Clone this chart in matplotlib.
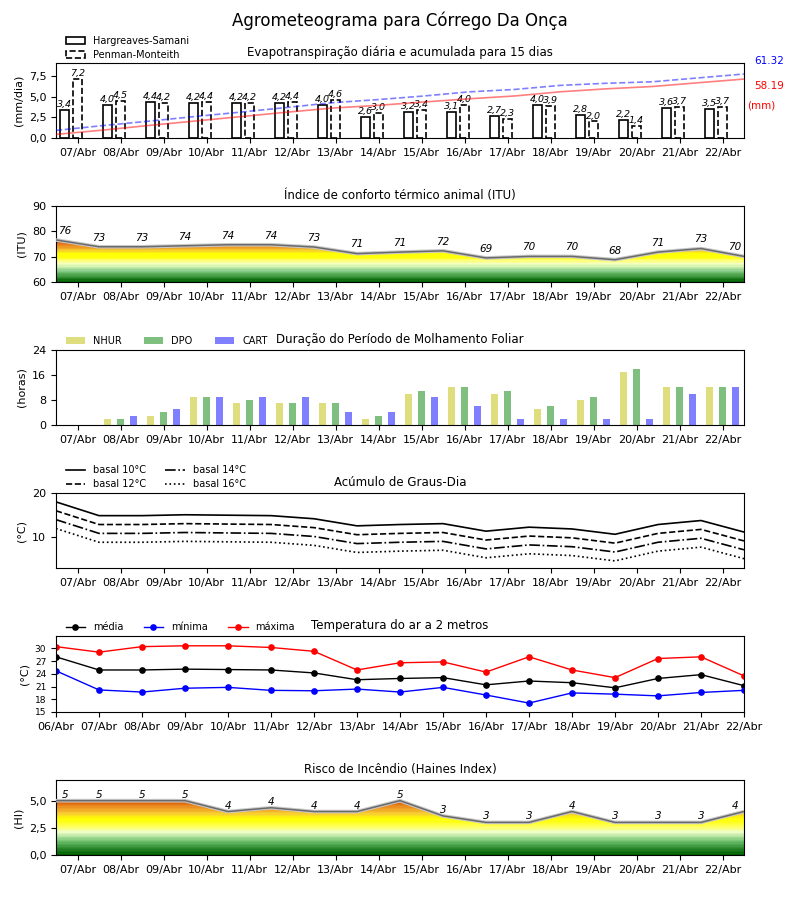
import numpy as np
import matplotlib
matplotlib.use('Agg')
import matplotlib.pyplot as plt
from matplotlib.colors import LinearSegmentedColormap, Normalize
from matplotlib.patches import Patch, Polygon
from matplotlib.ticker import FuncFormatter

# ---------------- data ----------------
days = ['07/Abr', '08/Abr', '09/Abr', '10/Abr', '11/Abr', '12/Abr', '13/Abr', '14/Abr',
        '15/Abr', '16/Abr', '17/Abr', '18/Abr', '19/Abr', '20/Abr', '21/Abr', '22/Abr']
temp_days = ['06/Abr'] + days

et_hs = [3.4, 4.0, 4.4, 4.2, 4.2, 4.2, 4.0, 2.6, 3.2, 3.1, 2.7, 4.0, 2.8, 2.2, 3.6, 3.5]
et_pm = [7.2, 4.5, 4.2, 4.4, 4.2, 4.4, 4.6, 3.0, 3.4, 4.0, 2.3, 3.9, 2.0, 1.4, 3.7, 3.7]
et_hs_total = '58.19'
et_pm_total = '61.32'

itu = [76.6, 73.9, 73.9, 74.3, 74.7, 74.7, 73.8, 71.2, 71.8, 72.3, 69.5, 70.1, 70.1,
       68.8, 71.8, 73.2, 70.1]

nhur = [0, 2, 3, 9, 7, 7, 7, 2, 10, 12, 10, 5, 8, 17, 12, 12]
dpo = [0, 2, 4, 9, 8, 7, 7, 3, 11, 12, 11, 6, 9, 18, 12, 12]
cart = [0, 3, 5, 9, 9, 9, 4, 4, 9, 6, 2, 2, 2, 2, 10, 12]

gd10 = [18.0, 14.9, 14.9, 15.1, 15.0, 14.9, 14.2, 12.6, 12.9, 13.1, 11.4, 12.3, 11.9, 10.7, 12.9, 13.8, 11.2]
gd12 = [16.0, 12.9, 12.9, 13.1, 13.0, 12.9, 12.2, 10.6, 10.9, 11.1, 9.4, 10.3, 9.9, 8.7, 10.9, 11.8, 9.2]
gd14 = [14.0, 10.9, 10.9, 11.1, 11.0, 10.9, 10.2, 8.6, 8.9, 9.1, 7.4, 8.3, 7.9, 6.7, 8.9, 9.8, 7.2]
gd16 = [12.0, 8.9, 8.9, 9.1, 9.0, 8.9, 8.2, 6.6, 6.9, 7.1, 5.4, 6.3, 5.9, 4.7, 6.9, 7.8, 5.2]

tmean = [28.0, 24.9, 24.9, 25.1, 25.0, 24.9, 24.2, 22.6, 22.9, 23.1, 21.4, 22.3, 21.9, 20.7, 22.9, 23.8, 21.2]
tmin = [24.7, 20.2, 19.7, 20.6, 20.8, 20.1, 20.0, 20.4, 19.7, 20.8, 19.0, 17.1, 19.5, 19.2, 18.8, 19.6, 20.1]
tmax = [30.4, 29.1, 30.4, 30.6, 30.6, 30.2, 29.3, 24.9, 26.6, 26.8, 24.4, 28.0, 24.9, 23.1, 27.6, 28.0, 23.5]

haines = [5, 5, 5, 5, 4, 4.35, 4, 4, 5, 3.6, 3, 3, 4, 3, 3, 3, 4]

# ---------------- helpers ----------------
comma = FuncFormatter(lambda v, p: ('%.1f' % v).replace('.', ','))

FS_TICK = 8
FS_TITLE = 8.5
LEG_X = 0.007


def setup_days(ax, labels):
    ax.set_xlim(-0.5, len(labels) - 0.5)
    ax.set_xticks(np.arange(len(labels)))
    ax.set_xticklabels(labels, fontsize=FS_TICK)
    ax.tick_params(axis='y', labelsize=FS_TICK)


def gradient_area(ax, x, y, ymin, ymax, stops, nb):
    v0, v1 = stops[0][0], stops[-1][0]
    cmap = LinearSegmentedColormap.from_list(
        'g', [((v - v0) / (v1 - v0), c) for v, c in stops], N=nb)
    grad = np.linspace(ymin, ymax, 400).reshape(-1, 1)
    im = ax.imshow(grad, extent=[x[0], x[-1], ymin, ymax], origin='lower',
                   aspect='auto', cmap=cmap, norm=Normalize(v0, v1), zorder=1,
                   interpolation='nearest')
    verts = [(x[0], ymin)] + list(zip(x, y)) + [(x[-1], ymin)]
    poly = Polygon(verts, closed=True, facecolor='none', edgecolor='none')
    ax.add_patch(poly)
    im.set_clip_path(poly)
    ax.plot(x, y, color='#c8c8c8', lw=2.6, zorder=3, solid_capstyle='butt')
    ax.plot(x, y, color='#6a6a6a', lw=1.1, zorder=4)


fig = plt.figure(figsize=(8, 9), dpi=100)
fig.suptitle('Agrometeograma para Córrego Da Onça', fontsize=12, y=0.987)

L, W = 0.07, 0.86
ndays = len(days)
xd = np.arange(ndays)
xe = np.linspace(-0.5, ndays - 0.5, ndays + 1)

# ---------------- panel 1: evapotranspiration ----------------
ax1 = fig.add_axes([L, 0.8467, W, 0.0833])
bw = 0.21
ax1.bar(xd - 0.31, et_hs, bw, facecolor='white', edgecolor='black', lw=1.2, zorder=2)
ax1.bar(xd, et_pm, bw, facecolor='white', edgecolor='black', lw=1.2, linestyle='--', zorder=2)
for xi, v in zip(xd - 0.31, et_hs):
    ax1.text(xi, v + 0.12, ('%.1f' % v).replace('.', ','), ha='center', va='bottom',
             fontsize=6.8, style='italic')
for xi, v in zip(xd, et_pm):
    ax1.text(xi, v + 0.12, ('%.1f' % v).replace('.', ','), ha='center', va='bottom',
             fontsize=6.8, style='italic')
setup_days(ax1, days)
ax1.set_ylim(0, 9.1)
ax1.set_yticks([0, 2.5, 5, 7.5])
ax1.yaxis.set_major_formatter(comma)
ax1.set_ylabel('(mm/dia)', fontsize=8)
ax1.set_title('Evapotranspiração diária e acumulada para 15 dias', fontsize=FS_TITLE, pad=5)
h1 = [Patch(facecolor='white', edgecolor='black', lw=1.2, label='Hargreaves-Samani'),
      Patch(facecolor='white', edgecolor='black', lw=1.2, linestyle='--', label='Penman-Monteith')]
ax1.legend(handles=h1, loc='lower left', bbox_to_anchor=(LEG_X, 0.98), frameon=False,
           fontsize=7, borderaxespad=0.1, labelspacing=0.4, handletextpad=0.8)

axc = fig.add_axes([L, 0.8467, W, 0.0833], frameon=False)
axc.plot(np.arange(ndays), np.cumsum(et_hs), color='red', alpha=0.5, lw=1.2)
axc.plot(np.arange(ndays), np.cumsum(et_pm), color='blue', alpha=0.5, lw=1.2, ls='--')
axc.set_xlim(0, ndays - 1)
axc.set_ylim(0, 71.4)
axc.set_xticks([])
axc.set_yticks([])
fig.text(769 / 800, 1 - 61 / 900, et_pm_total, color='blue', fontsize=7.5, ha='center', va='center')
fig.text(769 / 800, 1 - 86 / 900, et_hs_total, color='red', fontsize=7.5, ha='center', va='center')
fig.text(761 / 800, 1 - 105 / 900, '(mm)', color='red', fontsize=7.5, ha='center', va='center')

# ---------------- panel 2: ITU ----------------
ax2 = fig.add_axes([L, 0.6867, W, 0.0844])
itu_stops = [(60, '#006000'), (61.5, '#2e8b2e'), (63, '#5aaf5a'), (64.5, '#90d090'),
             (66, '#d4f4b0'), (67.2, '#f4ffc0'), (68.5, '#ffff70'), (69.5, '#ffff10'),
             (71.5, '#ffff00'), (72.5, '#f8d030'), (73.5, '#f0a828'), (74.8, '#e88020'),
             (77, '#d85000')]
gradient_area(ax2, xe, itu, 60, 90, itu_stops, 34)
for xi, v in zip(xe, itu):
    xt = min(max(xi, -0.29), ndays - 0.71)
    ax2.text(xt, v + 3.6, '%d' % int(v), ha='center', va='center', fontsize=7.5, style='italic')
setup_days(ax2, days)
ax2.set_ylim(60, 90)
ax2.set_yticks([60, 70, 80, 90])
ax2.set_ylabel('(ITU)', fontsize=8)
ax2.set_title('Índice de conforto térmico animal (ITU)', fontsize=FS_TITLE, pad=5)

# ---------------- panel 3: leaf wetness ----------------
ax3 = fig.add_axes([L, 0.5278, W, 0.0833])
wb = 0.155
ax3.bar(xd - 0.3, nhur, wb, color='y', alpha=0.5, label='NHUR')
ax3.bar(xd, dpo, wb, color='g', alpha=0.5, label='DPO')
ax3.bar(xd + 0.3, cart, wb, color='b', alpha=0.5, label='CART')
setup_days(ax3, days)
ax3.set_ylim(0, 24)
ax3.set_yticks([0, 8, 16, 24])
ax3.set_ylabel('(horas)', fontsize=8)
ax3.set_title('Duração do Período de Molhamento Foliar', fontsize=FS_TITLE, pad=5)
ax3.legend(loc='lower left', bbox_to_anchor=(LEG_X, 0.99), ncol=3, frameon=False,
           fontsize=7, borderaxespad=0.1, columnspacing=2.3, handletextpad=0.8)

# ---------------- panel 4: degree days ----------------
ax4 = fig.add_axes([L, 0.3689, W, 0.0833])
ax4.plot(xe, gd10, color='black', lw=1.2, ls='-', label='basal 10°C')
ax4.plot(xe, gd12, color='black', lw=1.2, ls='--', label='basal 12°C')
ax4.plot(xe, gd14, color='black', lw=1.2, ls='-.', label='basal 14°C')
ax4.plot(xe, gd16, color='black', lw=1.2, ls=':', label='basal 16°C')
setup_days(ax4, days)
ax4.set_ylim(3.1, 20)
ax4.set_yticks([10, 20])
ax4.set_ylabel('(°C)', fontsize=8)
ax4.set_title('Acúmulo de Graus-Dia', fontsize=FS_TITLE, pad=5)
ax4.legend(loc='lower left', bbox_to_anchor=(LEG_X, 0.99), ncol=2, frameon=False,
           fontsize=7, borderaxespad=0.1, columnspacing=2.0, handletextpad=0.8,
           labelspacing=0.4)

# ---------------- panel 5: air temperature ----------------
ax5 = fig.add_axes([L, 0.2089, W, 0.0844])
xt5 = np.arange(len(temp_days))
ax5.plot(xt5, tmean, color='black', marker='o', ms=3.8, lw=1, label='média')
ax5.plot(xt5, tmin, color='blue', marker='o', ms=3.8, lw=1, label='mínima')
ax5.plot(xt5, tmax, color='red', marker='o', ms=3.8, lw=1, label='máxima')
ax5.set_xlim(0, len(temp_days) - 1)
ax5.set_xticks(xt5)
ax5.set_xticklabels(temp_days, fontsize=FS_TICK)
ax5.set_ylim(15, 32.9)
ax5.set_yticks([15, 18, 21, 24, 27, 30])
ax5.tick_params(axis='y', labelsize=6.5)
ax5.set_ylabel('(°C)', fontsize=8)
ax5.set_title('Temperatura do ar a 2 metros', fontsize=FS_TITLE, pad=5)
ax5.legend(loc='lower left', bbox_to_anchor=(LEG_X, 0.99), ncol=3, frameon=False,
           fontsize=7, borderaxespad=0.1, columnspacing=2.1, handletextpad=0.8)

# ---------------- panel 6: Haines ----------------
ax6 = fig.add_axes([L, 0.05, W, 0.0833])
hi_stops = [(0, '#006000'), (0.6, '#2e8b2e'), (1.2, '#6cbf6c'), (1.7, '#b4e4a0'),
            (2.1, '#f0ffc8'), (2.6, '#ffff60'), (3.0, '#ffff20'), (3.4, '#ffff00'),
            (3.8, '#f8d030'), (4.3, '#f0a028'), (4.7, '#e47818'), (5.1, '#d85000')]
gradient_area(ax6, xe, haines, 0, 6.9, hi_stops, 40)
for xi, v in zip(xe, haines):
    xt = min(max(xi, -0.29), ndays - 0.71)
    ax6.text(xt, v + 0.55, '%d' % int(v), ha='center', va='center', fontsize=7.5, style='italic')
setup_days(ax6, days)
ax6.set_ylim(0, 6.9)
ax6.set_yticks([0, 2.5, 5])
ax6.yaxis.set_major_formatter(comma)
ax6.set_ylabel('(HI)', fontsize=8)
ax6.set_title('Risco de Incêndio (Haines Index)', fontsize=FS_TITLE, pad=5)

fig.savefig('out.png', dpi=100)
